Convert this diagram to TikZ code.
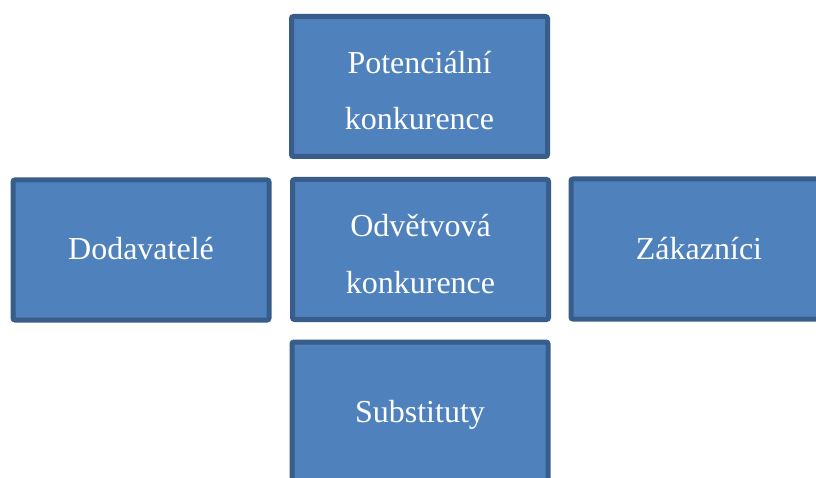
\documentclass[tikz,border=0pt]{standalone}
\usepackage{fontspec}
\setmainfont{Liberation Serif}
\definecolor{boxfill}{HTML}{4F81BD}
\definecolor{boxline}{HTML}{385D8A}
\newcommand\hiStrut[1]{\rule{0pt}{#1}}
\newcommand\loStrut{\rule[-10pt]{0pt}{10pt}}
\begin{document}
\begin{tikzpicture}[x=1pt,y=-1pt,
  forcebox/.style={draw=boxline, fill=boxfill, line width=5pt, rounded corners=2pt,
    minimum width=256pt, minimum height=140pt, inner sep=0pt,
    text=white, align=center, font=\fontsize{32}{56}\selectfont}]
\clip (0,0) rectangle (816,478);
\fill[white] (0,0) rectangle (816,478);
\node[forcebox] (pot) at (419.5,86.5) {\hiStrut{41pt}Potenciální\\konkurence\loStrut};
\node[forcebox] (dod) at (141,250) {\hiStrut{30pt}Dodavatelé\loStrut};
\node[forcebox] (odv) at (420.5,249.5) {\hiStrut{41pt}Odvětvová\\konkurence\loStrut};
\node[forcebox] (zak) at (699,249) {\hiStrut{30pt}Zákazníci\loStrut};
\node[forcebox] (sub) at (420,412) {\hiStrut{30pt}Substituty\loStrut};
\end{tikzpicture}
\end{document}
